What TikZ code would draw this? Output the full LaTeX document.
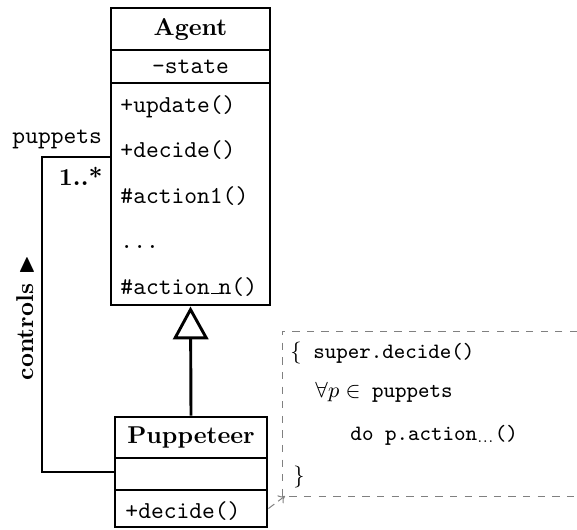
\documentclass[tikz,border=0pt]{standalone}
\usepackage{amssymb}
\usetikzlibrary{arrows.meta}
\def\px{0.4108pt}
\newcommand\lowbar{\leavevmode\kern.06em\vbox{\hrule width.3em}}
\begin{document}
\begin{tikzpicture}[x=\px,y=-\px,
  umlbox/.style={draw, line width=1.2pt, rectangle, inner sep=0pt},
  optext/.style={anchor=base west, inner sep=0pt, font=\ttfamily},
  assoc/.style={line width=0.6pt},
  lbl/.style={inner sep=0pt},
  notetext/.style={anchor=base west, inner sep=0pt, font=\small\ttfamily},
  noteline/.style={dashed, gray, line width=0.4pt},
  gen/.style={line width=1.2pt, -{Triangle[open, length=13.5pt, width=14.5pt]}}]
\useasboundingbox (0,0) rectangle (577,529);
% Agent class
\node[umlbox, minimum width={159*\px}, minimum height={42*\px}] (agent) at (190.5,29) {\textbf{Agent}};
\node[umlbox, minimum width={159*\px}, minimum height={33*\px}] (agentattr) at (190.5,66.5) {\ttfamily -state};
\node[umlbox, minimum width={159*\px}, minimum height={222*\px}] (agentops) at (190.5,194) {};
\node[optext] (op1) at (120,112) {+update()};
\node[optext] (op2) at (120,157) {+decide()};
\node[optext] (op3) at (120,203) {\#action1()};
\node[optext] (op4) at (120,248) {...};
\node[optext] (op5) at (120,294) {\#action\lowbar n()};
% Puppeteer class
\node[umlbox, minimum width={152*\px}, minimum height={41*\px}] (pup) at (191,437.5) {\textbf{Puppeteer}};
\node[umlbox, minimum width={152*\px}, minimum height={32*\px}] (pupattr) at (191,474) {};
\node[umlbox, minimum width={152*\px}, minimum height={37*\px}] (pupops) at (191,508.5) {};
\node[optext] (pupdecide) at (125,518) {+decide()};
% generalization
\draw[gen] (pup.north) -- (agentops.south);
% association
\coordinate (c1) at (42,157);
\coordinate (c2) at (42,472);
\draw[assoc] (agentops.west |- c1) -- (c1) -- (c2) -- (pupattr.west |- c2);
\node[lbl, font=\ttfamily, anchor=base west] (puppets) at (12,143) {puppets};
\node[lbl, font=\bfseries, anchor=base east] (mult) at (103,185) {1..*};
\node[lbl, font=\bfseries, rotate=90, anchor=base] (ctrl) at (33,318) {controls $\blacktriangleright$};
% note
\coordinate (ntl) at (282,331);
\coordinate (nbl) at (282,496);
\coordinate (ntr) at (577,331);
\coordinate (nbr) at (577,496);
\coordinate (ntip) at (285,496);
\draw[noteline] (ntr) -- (ntl) -- (nbl) -- (nbr);
\node[notetext] (n1) at (290,358) {$\{$\ super.decide()};
\node[notetext] (n2) at (315,397) {$\forall p\in$ puppets};
\node[notetext] (n3) at (350,440) {do p.action$_{\ldots}$()};
\node[notetext] (n4) at (293,482) {$\}$};
\draw[noteline, dash pattern=on 3pt off 2pt, -{To[length=2.5pt, width=4pt]}] (pupops.east) -- (ntip);
\end{tikzpicture}
\end{document}
